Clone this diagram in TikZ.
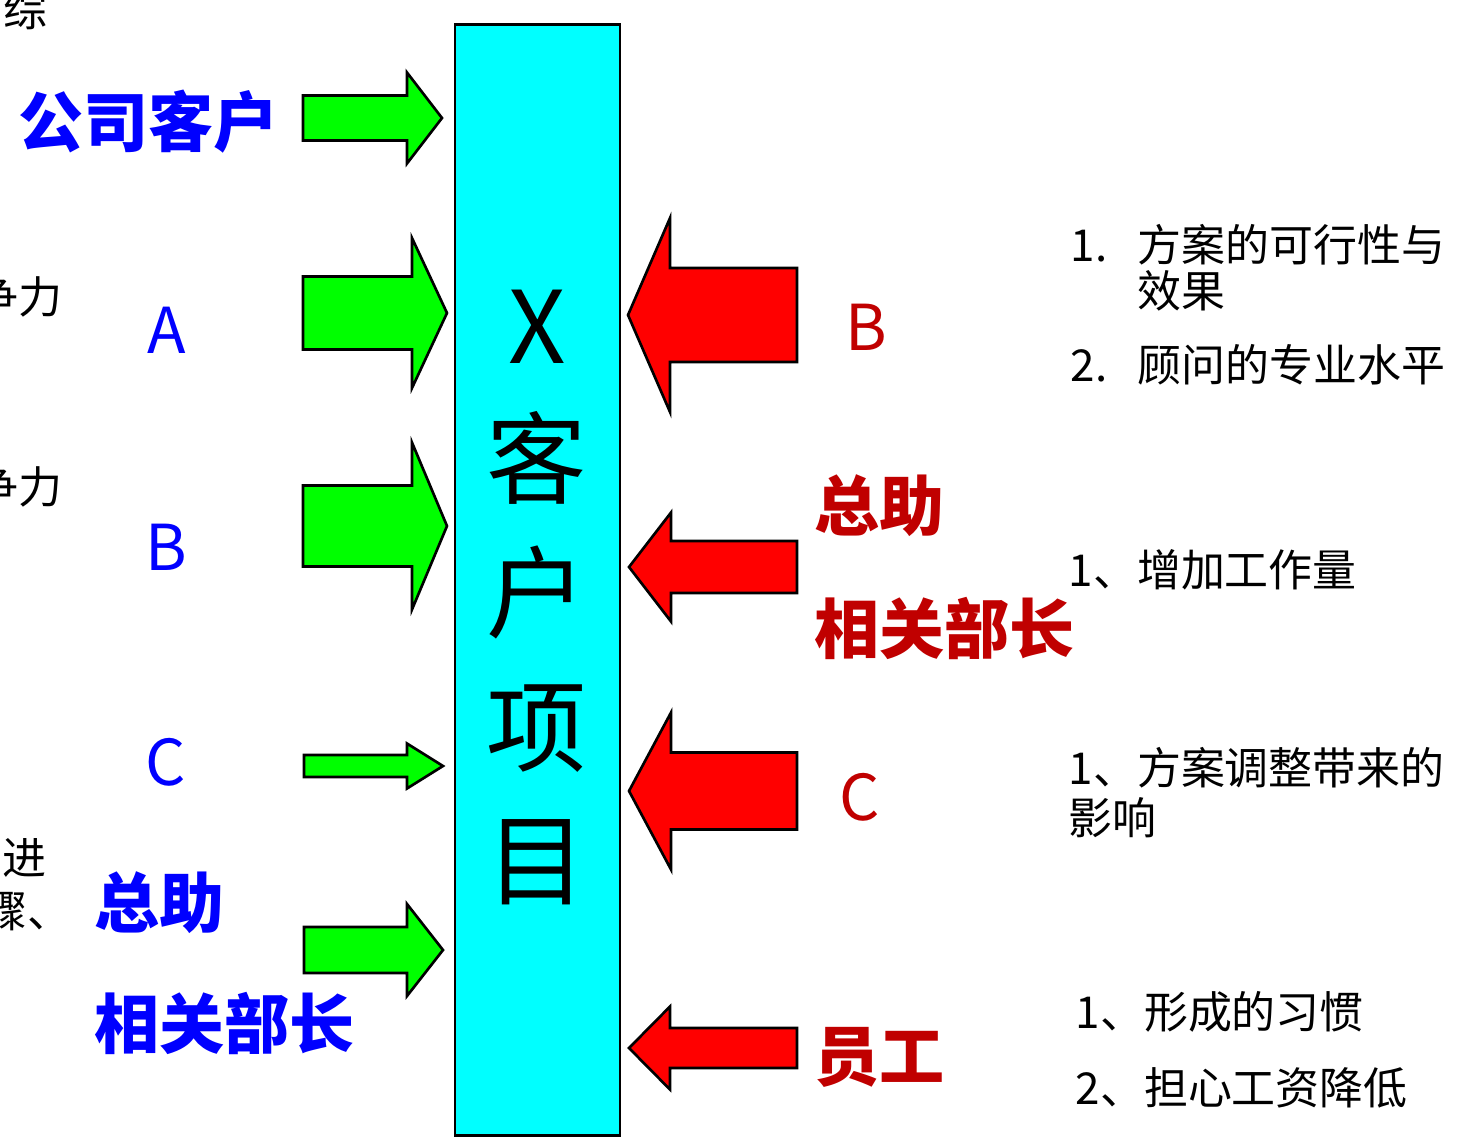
\documentclass[tikz,border=0pt]{standalone}
\usepackage{fontspec}
\setmainfont{Noto Sans CJK SC}
\usetikzlibrary{positioning}
\definecolor{boxCyan}{HTML}{00FFFF}
\definecolor{pushGreen}{HTML}{00FF00}
\definecolor{pullRed}{HTML}{FF0000}
\definecolor{txtBlue}{HTML}{0000FF}
\definecolor{txtRed}{HTML}{C00000}
% fat arrow: style, tail x, head base x, tip x, centre y, half shaft, half head
\newcommand{\FatArrow}[7]{%
  \filldraw[#1] (#2,{#5-#6}) -- (#3,{#5-#6}) -- (#3,{#5-#7}) -- (#4,#5)
    -- (#3,{#5+#7}) -- (#3,{#5+#6}) -- (#2,{#5+#6}) -- cycle;}

\begin{document}
\begin{tikzpicture}[x=0.01cm,y=-0.01cm,
    pushArrow/.style={fill=pushGreen,draw=black,line width=0.75pt,line join=miter},
    pullArrow/.style={fill=pullRed,draw=black,line width=0.75pt,line join=miter},
    bigword/.style={font=\fontsize{18.5}{22}\selectfont\bfseries,inner sep=0pt,anchor=west},
    blueword/.style={bigword,text=txtBlue},
    redword/.style={bigword,text=txtRed},
    letter/.style={font=\fontsize{18}{22}\selectfont,inner sep=0pt},
    note/.style={font=\fontsize{12.5}{15}\selectfont,inner sep=0pt,anchor=west},
    cutnote/.style={note,anchor=east}]
  \useasboundingbox (0,0) rectangle (1458,1142);
  \clip (0,0) rectangle (1458,1142);

  % the project column
  \node[draw=black,fill=boxCyan,line width=0.8pt,inner sep=0pt,
        minimum width=1.65cm,minimum height=11.1cm] (proj) at (537.5,580) {};
  \node[font=\fontsize{28.5}{38}\selectfont,align=center,inner sep=0pt,anchor=north]
    (projname) at (537,289) {X\\客\\户\\项\\目};

  % pushing forces (left)
  \FatArrow{pushArrow}{303}{407}{442}{118}{22.5}{45.5}
  \FatArrow{pushArrow}{303}{412}{447}{313}{36.5}{75}
  \FatArrow{pushArrow}{303}{412}{447}{526}{40.5}{83.5}
  \FatArrow{pushArrow}{304}{407}{443}{766}{11}{22.5}
  \FatArrow{pushArrow}{304}{407}{443}{950}{23}{46}

  \node[blueword] (client) at (18,122) {公司客户};
  \node[letter,text=txtBlue] (pa) at (167,330) {A};
  \node[letter,text=txtBlue] (pb) at (166,547) {B};
  \node[letter,text=txtBlue] (pc) at (166,762) {C};
  \node[blueword] (lboss) at (94,903) {总助};
  \node[blueword] (lheads) at (94,1023) {相关部长};

  % text cut at the left edge
  \node[note] (cut1) at (3,10) {综};
  \node[cutnote] (cut2) at (63,297) {争力};
  \node[cutnote] (cut3) at (63,487) {争力};
  \node[cutnote] (cut4) at (47,858) {进};
  \node[cutnote] (cut5) at (72,912) {骤、};

  % resisting forces (right)
  \FatArrow{pullArrow}{797}{670}{628}{315}{47}{97}
  \FatArrow{pullArrow}{797}{671}{629}{567}{26}{54.5}
  \FatArrow{pullArrow}{797}{671}{629}{791}{38.5}{78.5}
  \FatArrow{pullArrow}{797}{670}{629}{1048}{20}{41.5}

  \node[letter,text=txtRed] (rb) at (866,327) {B};
  \node[redword] (rboss) at (814,506) {总助};
  \node[redword] (rheads) at (814,628) {相关部长};
  \node[letter,text=txtRed] (rc) at (860,797) {C};
  \node[redword] (staff) at (814,1057) {员工};

  % reasons
  \node[note] (rb1) at (1070,245) {\makebox[0.67cm][l]{1.}方案的可行性与};
  \node[note] (rb1b) at (1137,291) {效果};
  \node[note] (rb2) at (1070,365) {\makebox[0.67cm][l]{2.}顾问的专业水平};
  \node[note] (rh1) at (1068,570) {1、增加工作量};
  \node[note] (rc1) at (1068,768) {1、方案调整带来的};
  \node[note] (rc1b) at (1068,818) {影响};
  \node[note] (rs1) at (1075,1012) {1、形成的习惯};
  \node[note] (rs2) at (1075,1088) {2、担心工资降低};
\end{tikzpicture}
\end{document}
